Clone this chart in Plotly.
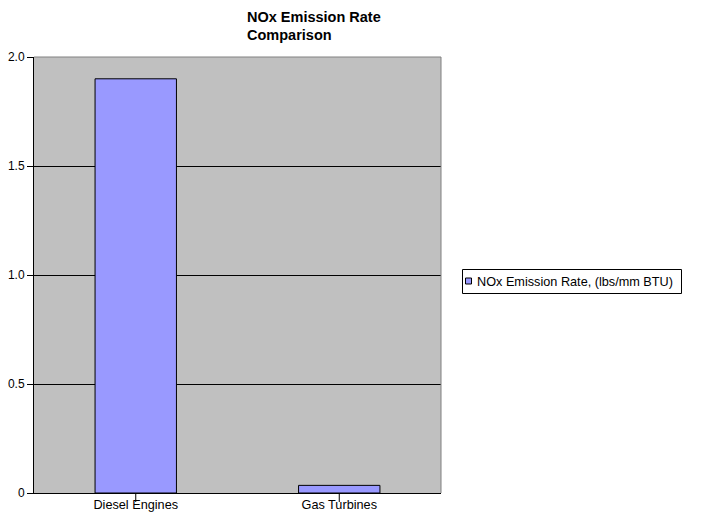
import plotly.graph_objects as go

categories = ["Diesel Engines", "Gas Turbines"]
nox_rate = [1.9, 0.035]
series_name = "NOx Emission Rate, (lbs/mm BTU)"
y_tick_vals = [0, 0.5, 1.0, 1.5, 2.0]
y_tick_text = ["0", "0.5", "1.0", "1.5", "2.0"]

FONT = "Liberation Sans, Arial, sans-serif"
BAR_COLOR = "#9999FF"

# the page body adds an 8px offset; compensate so the picture lands at 704x527 coords
OFF = 8
W, H = 704 - OFF, 527 - OFF
L, R, T, B = 34 - OFF, 263, 57 - OFF, 34
PW, PH = W - L - R, H - T - B


def px_x(px):
    return (px - OFF - L) / PW


def px_y(py):
    return (H - B - (py - OFF)) / PH


fig = go.Figure()
fig.add_trace(go.Bar(
    x=categories, y=nox_rate, name=series_name,
    marker=dict(color=BAR_COLOR, line=dict(color="black", width=1)),
    showlegend=False,
))

fig.update_layout(
    width=W, height=H,
    margin=dict(l=L, r=R, t=T, b=B),
    paper_bgcolor="white", plot_bgcolor="#C0C0C0",
    font=dict(family=FONT, size=12, color="black"),
    bargap=0.6,
    title=dict(
        text="<b>NOx Emission Rate<br>Comparison</b>",
        x=(247 - OFF) / W, xanchor="left", xref="container",
        y=1 - 13.5 / H, yanchor="middle", yref="container",
        font=dict(family=FONT, size=14.5, color="black"),
    ),
    showlegend=False,
    xaxis=dict(
        automargin=False,
        showline=True, linecolor="black", linewidth=1,
        ticks="", showgrid=False, tickfont=dict(size=12.7),
    ),
    yaxis=dict(
        automargin=False,
        range=[0, 2], tickvals=y_tick_vals, ticktext=y_tick_text,
        showline=True, linecolor="black", linewidth=1,
        ticks="outside", ticklen=6, tickcolor="black",
        showgrid=True, gridcolor="black", gridwidth=1,
        zeroline=False, tickfont=dict(size=12),
    ),
)

# category tick marks below the x axis
for c in categories:
    fig.add_shape(type="line", xref="x", yref="paper", x0=c, x1=c,
                  y0=0, y1=-9 / PH, line=dict(color="black", width=1), layer="above")

# plot-area top/right border
fig.add_shape(type="line", xref="paper", yref="paper", x0=0, x1=1, y0=1, y1=1,
              line=dict(color="#808080", width=1), layer="above")
fig.add_shape(type="line", xref="paper", yref="paper", x0=1, x1=1, y0=0, y1=1,
              line=dict(color="#808080", width=1), layer="above")

# legend box
fig.add_shape(type="rect", xref="paper", yref="paper",
              x0=px_x(462.5), x1=px_x(681.5), y0=px_y(293.5), y1=px_y(269.5),
              line=dict(color="black", width=1), fillcolor="white", layer="above")
fig.add_shape(type="rect", xref="paper", yref="paper",
              x0=px_x(465.5), x1=px_x(471.5), y0=px_y(284), y1=px_y(278),
              line=dict(color="black", width=1), fillcolor=BAR_COLOR, layer="above")
fig.add_annotation(xref="paper", yref="paper", x=px_x(475), y=px_y(282),
                   xanchor="left", yanchor="middle", showarrow=False,
                   text=series_name, font=dict(family=FONT, size=12.7, color="black"))

fig.write_html("out.html")
